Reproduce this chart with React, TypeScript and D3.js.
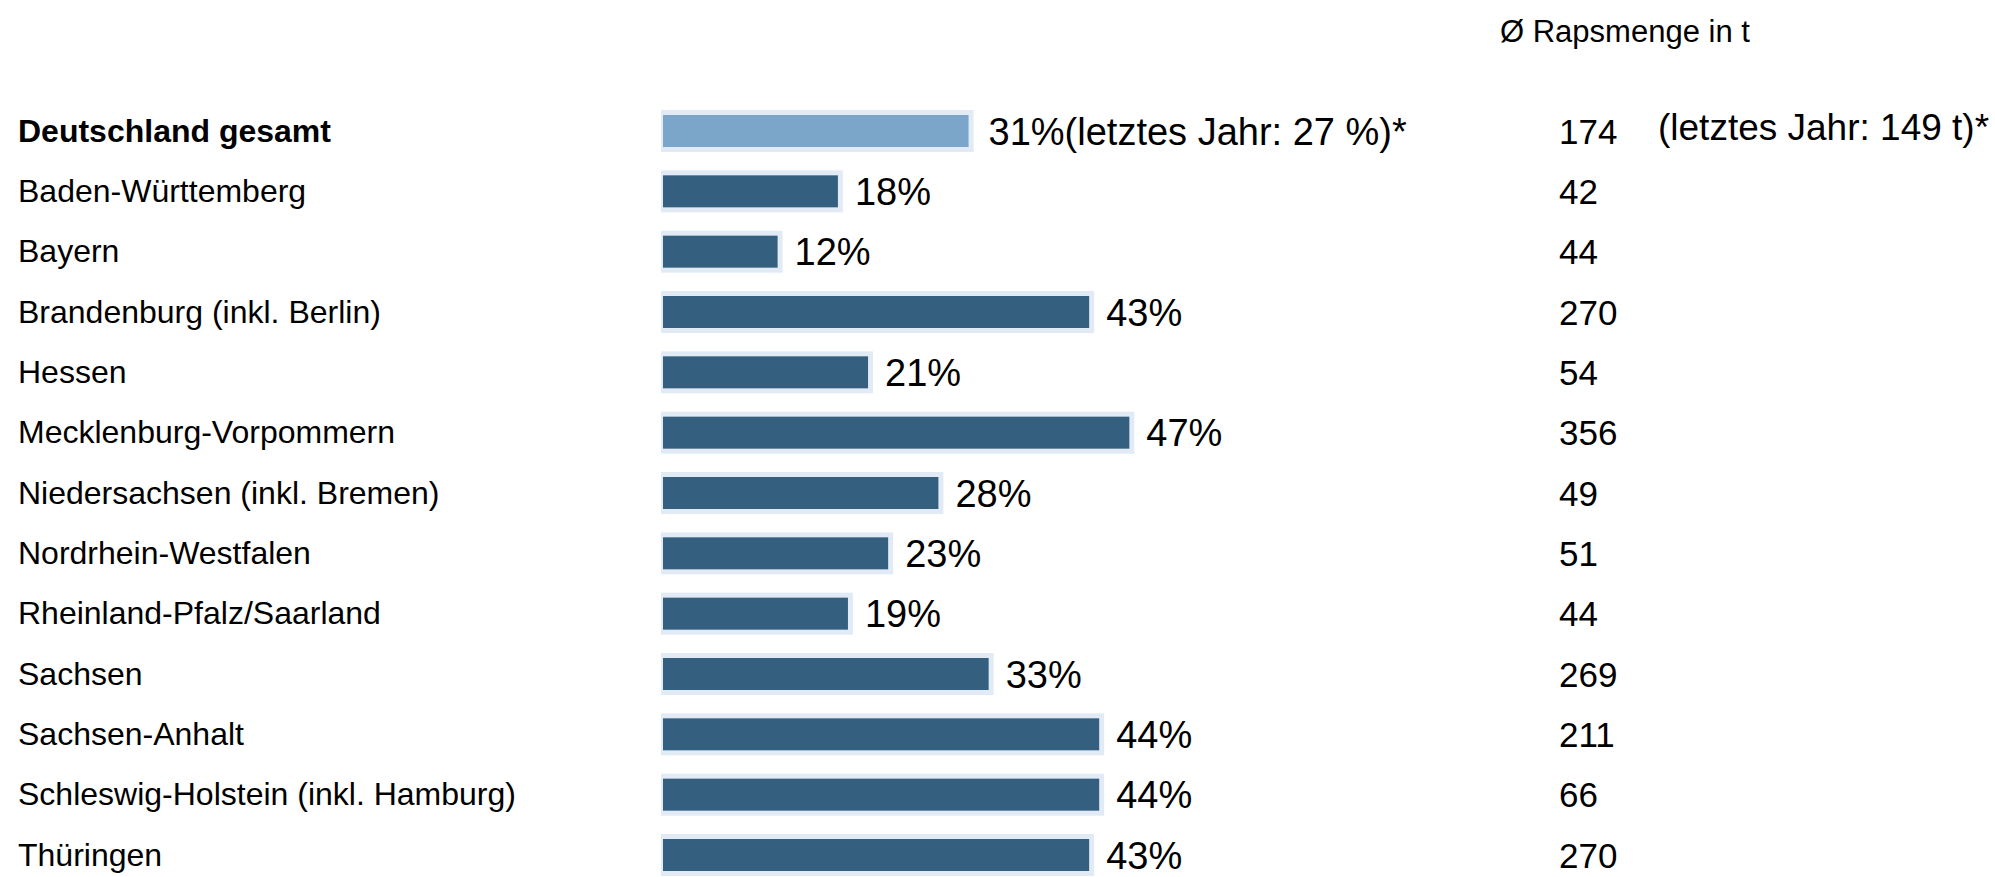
import React from "react";
import * as d3 from "d3";

const regions = [
  "Deutschland gesamt",
  "Baden-Württemberg",
  "Bayern",
  "Brandenburg (inkl. Berlin)",
  "Hessen",
  "Mecklenburg-Vorpommern",
  "Niedersachsen (inkl. Bremen)",
  "Nordrhein-Westfalen",
  "Rheinland-Pfalz/Saarland",
  "Sachsen",
  "Sachsen-Anhalt",
  "Schleswig-Holstein (inkl. Hamburg)",
  "Thüringen",
];
const shares = [31, 18, 12, 43, 21, 47, 28, 23, 19, 33, 44, 44, 43];
const amounts = [174, 42, 44, 270, 54, 356, 49, 51, 44, 269, 211, 66, 270];
const lastYearShare = 27;
const lastYearAmount = 149;
const headerText = "Ø Rapsmenge in t";

const W = 1995;
const H = 877;
const FONT = "'Liberation Sans', Arial, Helvetica, sans-serif";

export default function App() {
  const x = d3.scaleLinear().domain([0, 50]).range([657, 1159.5]);
  const barX0 = 663;
  const y = d3.scalePoint<string>().domain(regions).range([131, 855]);
  const barH = 32;

  return (
    <svg
      width={W}
      height={H}
      viewBox={`0 0 ${W} ${H}`}
      style={{ position: "absolute", left: 0, top: 0, background: "#fff" }}
      fontFamily={FONT}
    >
      <rect x={0} y={0} width={W} height={H} fill="#ffffff" />
      <text x={1500} y={42} fontSize={31} fill="#000">
        {headerText}
      </text>
      {regions.map((r, i) => {
        const cy = y(r) as number;
        const xe = x(shares[i]);
        const isTotal = i === 0;
        const w = xe - barX0;
        return (
          <g key={r}>
            <text
              x={18}
              y={cy + 10.5}
              fontSize={32}
              fontWeight={isTotal ? "bold" : "normal"}
              fill="#000"
            >
              {r}
            </text>
            <rect
              x={barX0 - 2}
              y={cy - barH / 2 - 5}
              width={w + 7}
              height={barH + 10}
              fill="#e2ebf5"
            />
            <rect
              x={barX0}
              y={cy - barH / 2}
              width={w}
              height={barH}
              fill={isTotal ? "#7ba6ca" : "#355f7f"}
            />
            <text x={xe + (isTotal ? 20 : 17)} y={cy + 13.5} fontSize={38} fill="#000">
              {isTotal
                ? `${shares[i]}%(letztes Jahr: ${lastYearShare} %)*`
                : `${shares[i]}%`}
            </text>
            <text x={1559} y={cy + 12.5} fontSize={35} fill="#000">
              {amounts[i]}
            </text>
            {isTotal && (
              <text x={1658} y={cy + 9} fontSize={37} fill="#000">
                {`(letztes Jahr: ${lastYearAmount} t)*`}
              </text>
            )}
          </g>
        );
      })}
    </svg>
  );
}
